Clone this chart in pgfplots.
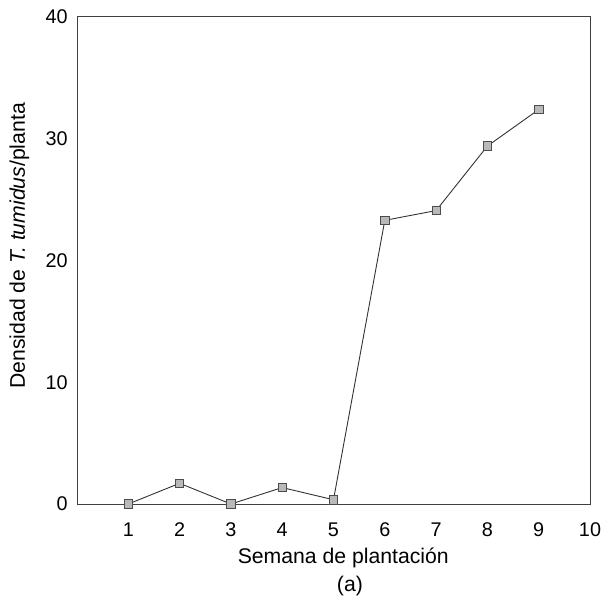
\documentclass[border=0pt]{standalone}
\usepackage{pgfplots}
\pgfplotsset{compat=1.18}
\usepackage{fontspec}
\setmainfont{Liberation Sans}
\begin{document}
\begin{tikzpicture}
\begin{axis}[
  name=ax,
  scale only axis,
  width=256.5pt, height=243.5pt,
  xmin=0, xmax=10, ymin=0, ymax=40,
  xtick={1,...,10}, ytick={0,10,20,30,40},
  major tick length=0pt,
  axis line style={black!75, line width=0.5pt},
  /pgf/number format/assume math mode=true,
  tick label style={font=\fontsize{9.9}{12}\selectfont},
  xticklabel style={anchor=center, yshift=-13pt},
  yticklabel style={anchor=east, inner sep=0pt, xshift=-4.5pt},
  clip=false,
]
\addplot[black!80, line width=0.45pt, mark=square*,
  mark size=2.1pt, mark options={fill=gray!55, draw=black!70, line width=0.4pt}]
  coordinates {(1,0) (2,1.7) (3,0) (4,1.35) (5,0.35) (6,23.3) (7,24.1) (8,29.4) (9,32.4)};
\end{axis}
% axis titles and panel letter
\node[font=\fontsize{10.6}{12}\selectfont, anchor=base]
  at ([xshift=0.519*256.5pt, yshift=-29.5pt]ax.south west) {Semana de plantación};
\node[font=\fontsize{10.6}{12}\selectfont, anchor=base]
  at ([xshift=0.532*256.5pt, yshift=-43.5pt]ax.south west) {(a)};
\node[font=\fontsize{10.6}{12}\selectfont, anchor=center, rotate=90]
  at ([xshift=-28.75pt, yshift=0.53*243.5pt]ax.south west) {Densidad de \textit{T. tumidus}/planta};
\pgfresetboundingbox
\path[use as bounding box] ([xshift=-38.5pt, yshift=-48pt]ax.south west)
  rectangle ([xshift=6.5pt, yshift=8.5pt]ax.north east);
\end{tikzpicture}
\end{document}
